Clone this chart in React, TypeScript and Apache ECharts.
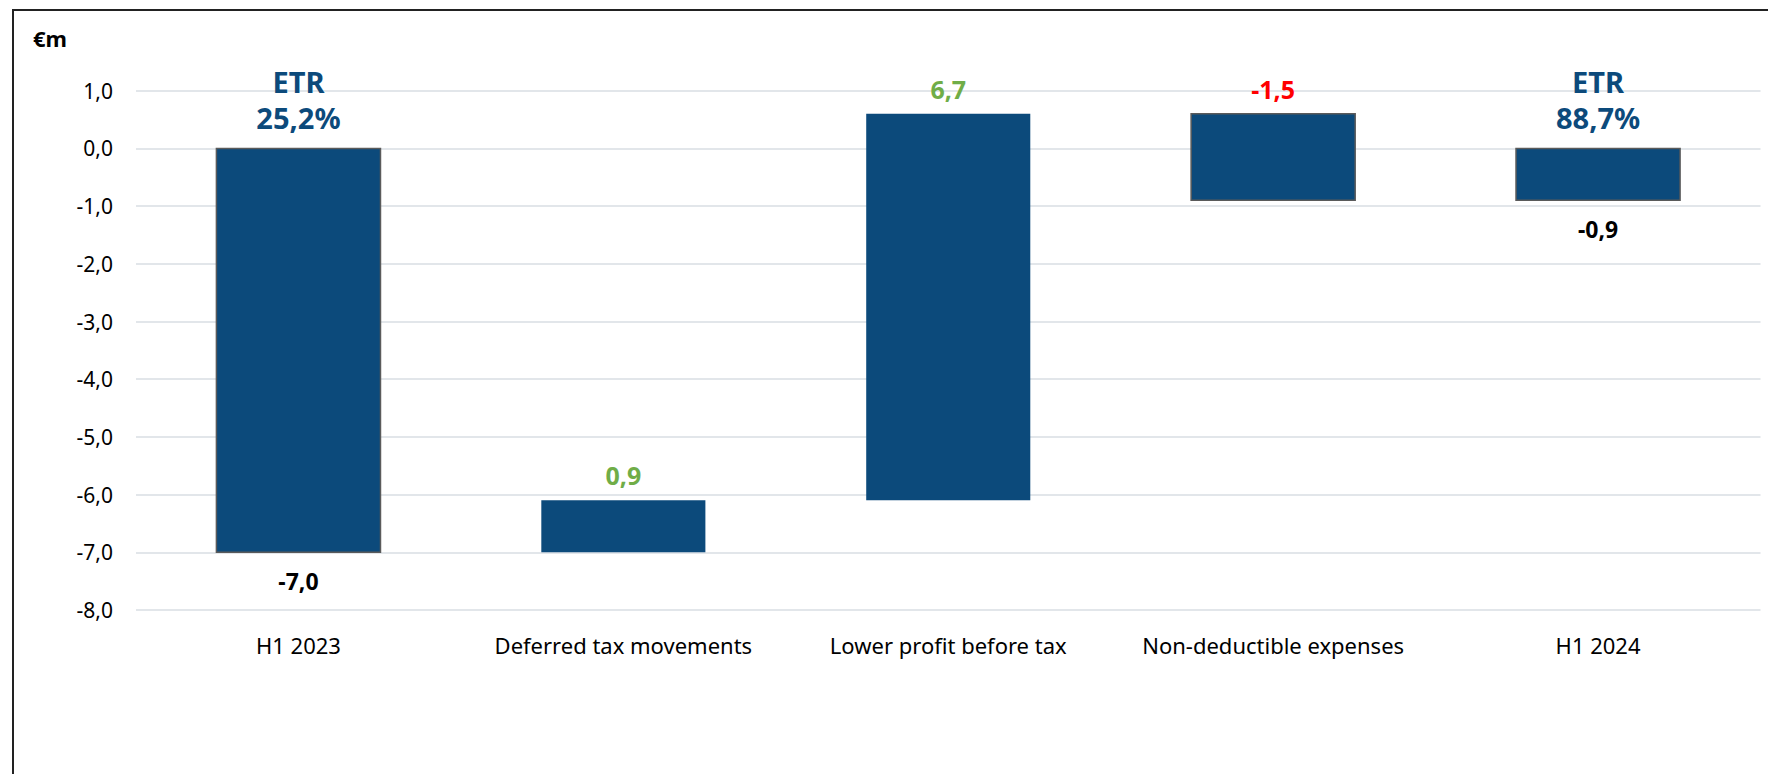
import React, { useEffect, useRef } from "react";
import * as echarts from "echarts";

// ---- data ----
const categories = [
  "H1 2023",
  "Deferred tax movements",
  "Lower profit before tax",
  "Non-deductible expenses",
  "H1 2024",
];
// true = total bar (drawn from zero), false = change bar (floating)
const isTotal = [true, false, false, false, true];
// value of each bar: totals are levels, others are changes
const barValues = [-7.0, 0.9, 6.7, -1.5, -0.9];
const etrLabels = ["25,2%", "", "", "", "88,7%"];
const yTicks = { min: -8, max: 1, interval: 1 };
const unitLabel = "€m";

const fmt = (v: number) => v.toFixed(1).replace(".", ",");

export default function App() {
  const ref = useRef<HTMLDivElement>(null);
  useEffect(() => {
    if (!ref.current) return;
    const chart = echarts.init(ref.current, undefined, { renderer: "svg" });

    // build waterfall ranges [index, start, end, value]
    let level = 0;
    const ranges: number[][] = barValues.map((v, i) => {
      let start: number, end: number;
      if (isTotal[i]) {
        start = 0;
        end = v;
        level = v;
      } else {
        start = level;
        end = level + v;
        level = end;
      }
      return [i, Math.round(start * 10) / 10, Math.round(end * 10) / 10, v];
    });

    const FONT = "'Noto Sans', sans-serif";
    const BLUE = "#0C4A7B";
    const bordered = new Set([0, 3, 4]);

    chart.setOption({
      animation: false,
      backgroundColor: "#ffffff",
      grid: { left: 136, right: 7.5, top: 90.7, bottom: 164 },
      xAxis: {
        type: "category",
        data: categories,
        axisLine: { show: false },
        axisTick: { show: false },
        axisLabel: {
          color: "#000",
          fontFamily: FONT,
          fontSize: 22,
          lineHeight: 26,
          margin: 22,
          interval: 0,
        },
      },
      yAxis: {
        type: "value",
        min: yTicks.min,
        max: yTicks.max,
        interval: yTicks.interval,
        axisLine: { show: false },
        axisTick: { show: false },
        axisLabel: {
          color: "#000",
          fontFamily: FONT,
          fontSize: 21,
          margin: 23,
          formatter: (v: number) => fmt(v),
        },
        splitLine: { lineStyle: { color: "#E2E6EA", width: 2 } },
      },
      graphic: [
        {
          type: "rect",
          shape: { x: 13, y: 10, width: 1800, height: 800 },
          style: { fill: "none", stroke: "#222", lineWidth: 2 },
          silent: true,
        },
        {
          type: "text",
          x: 50,
          y: 38,
          style: {
            text: unitLabel,
            fill: "#000",
            fontFamily: FONT,
            fontSize: 22,
            fontWeight: "bold",
            align: "center",
            verticalAlign: "middle",
          },
        },
      ],
      series: [
        {
          type: "custom",
          data: ranges,
          encode: { x: 0, y: [1, 2] },
          renderItem: (params: any, api: any) => {
            const idx = api.value(0);
            const start = api.value(1);
            const end = api.value(2);
            const val = api.value(3);
            const hi = Math.max(start, end);
            const lo = Math.min(start, end);
            const pTop = api.coord([idx, hi]);
            const pBot = api.coord([idx, lo]);
            const bw = api.size([1, 0])[0] * 0.505;
            const children: any[] = [
              {
                type: "rect",
                shape: { x: pTop[0] - bw / 2, y: pTop[1], width: bw, height: pBot[1] - pTop[1] },
                style: {
                  fill: BLUE,
                  stroke: bordered.has(idx) ? "#5A5A5A" : null,
                  lineWidth: bordered.has(idx) ? 1.5 : 0,
                },
              },
            ];
            const total = isTotal[idx];
            if (total) {
              children.push({
                type: "text",
                x: pBot[0],
                y: pBot[1] + 29,
                style: {
                  text: fmt(val),
                  fill: "#000",
                  fontFamily: FONT,
                  fontSize: 23,
                  fontWeight: "bold",
                  align: "center",
                  verticalAlign: "middle",
                },
              });
              const etr = etrLabels[idx];
              if (etr) {
                children.push({
                  type: "text",
                  x: pTop[0],
                  y: pTop[1] - 67,
                  style: {
                    text: "ETR",
                    fill: BLUE,
                    fontFamily: FONT,
                    fontSize: 29,
                    fontWeight: "bold",
                    align: "center",
                    verticalAlign: "middle",
                  },
                });
                children.push({
                  type: "text",
                  x: pTop[0],
                  y: pTop[1] - 31,
                  style: {
                    text: etr,
                    fill: BLUE,
                    fontFamily: FONT,
                    fontSize: 29,
                    fontWeight: "bold",
                    align: "center",
                    verticalAlign: "middle",
                  },
                });
              }
            } else {
              children.push({
                type: "text",
                x: pTop[0],
                y: pTop[1] - 25,
                style: {
                  text: fmt(val),
                  fill: val >= 0 ? "#70AD47" : "#FF0000",
                  fontFamily: FONT,
                  fontSize: 25,
                  fontWeight: "bold",
                  align: "center",
                  verticalAlign: "middle",
                },
              });
            }
            return { type: "group", children };
          },
        },
      ],
    });
    return () => chart.dispose();
  }, []);
  return (
    <div
      ref={ref}
      style={{ position: "fixed", left: 0, top: 0, width: 1768, height: 774, background: "#fff" }}
    />
  );
}
